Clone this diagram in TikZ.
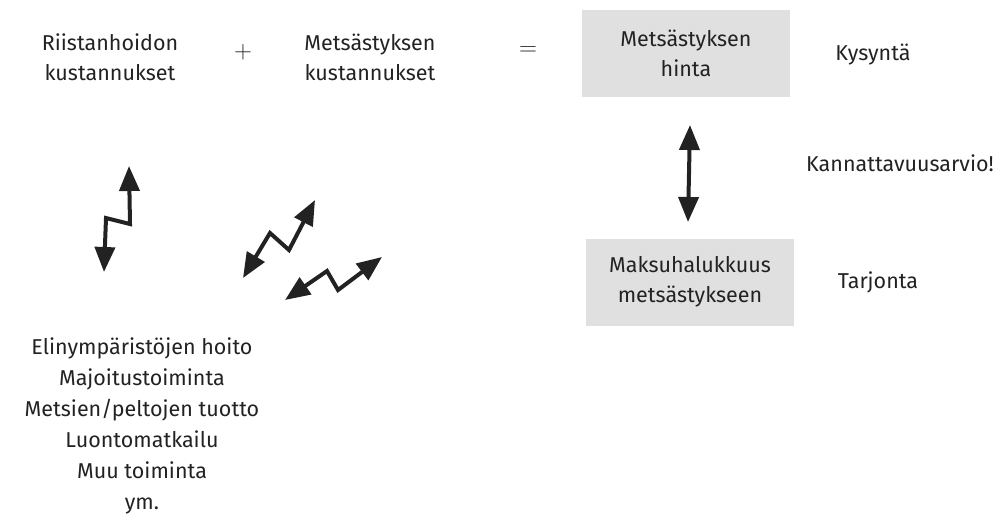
\documentclass[tikz,border=0pt]{standalone}
\usepackage{fontspec}
\setmainfont{Fira Sans}
\usetikzlibrary{arrows.meta}
\definecolor{boxgray}{HTML}{E0E0E0}
\definecolor{ink}{HTML}{222222}
\begin{document}
\begin{tikzpicture}[x=1pt,y=-1pt,
  lbl/.style={font=\fontsize{21.5}{30}\selectfont, text=ink, align=center, inner sep=0pt},
  sym/.style={text=ink, inner sep=0pt, font=\fontsize{30}{30}\selectfont},
  graybox/.style={fill=boxgray, minimum width=208pt, minimum height=87pt, inner sep=0pt},
  zz/.style={line width=4pt, draw=ink, {Triangle[width=20pt,length=25pt]}-{Triangle[width=20pt,length=25pt]}}]
\useasboundingbox (0,0) rectangle (998,514);
\node[lbl] (riista) at (110,57) {Riistanhoidon\\kustannukset};
\node[sym] (plus) at (243,52) {$+$};
\node[lbl] (metskust) at (370,57) {Metsästyksen\\kustannukset};
\node[sym] (eq) at (528,51) {$=$};
\node[graybox] (hinta) at (686,53) {};
\node[lbl] at (hinta) {Metsästyksen\\hinta};
\node[lbl] (kysynta) at (873,55) {Kysyntä};
\node[lbl] (kann) at (900,163) {Kannattavuusarvio!};
\node[graybox] (maksu) at (690,282) {};
\node[lbl] at (maksu) {Maksuhalukkuus\\metsästykseen};
\node[lbl] (tarjonta) at (878,282) {Tarjonta};
\node[lbl, font=\fontsize{21.5}{31}\selectfont] (lista) at (142,426) {Elinympäristöjen hoito\\Majoitustoiminta\\Metsien/peltojen tuotto\\Luontomatkailu\\Muu toiminta\\ym.};
\coordinate (v1) at (690,125);
\coordinate (v2) at (688,222);
\draw[zz] (v1) -- (v2);
\coordinate (a1) at (104,272);
\coordinate (a2) at (106,218);
\coordinate (a3) at (130,224);
\coordinate (a4) at (129,166);
\draw[zz] (a1) -- (a2) -- (a3) -- (a4);
\coordinate (b1) at (243,278);
\coordinate (b2) at (270,233);
\coordinate (b3) at (289,250);
\coordinate (b4) at (315,200);
\draw[zz] (b1) -- (b2) -- (b3) -- (b4);
\coordinate (c1) at (285,300);
\coordinate (c2) at (327,271);
\coordinate (c3) at (338,290);
\coordinate (c4) at (382,257);
\draw[zz] (c1) -- (c2) -- (c3) -- (c4);
\end{tikzpicture}
\end{document}
